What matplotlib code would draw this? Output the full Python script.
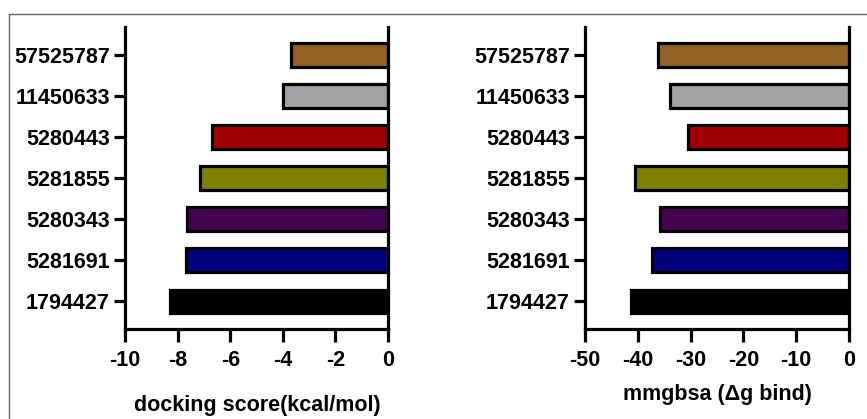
import matplotlib
matplotlib.use("Agg")
import matplotlib.pyplot as plt
from matplotlib.lines import Line2D

compounds = ["1794427", "5281691", "5280343", "5281855", "5280443", "11450633", "57525787"]
docking_score = [-8.27, -7.67, -7.63, -7.16, -6.71, -4.0, -3.68]
mmgbsa = [-41.2, -37.4, -35.8, -40.6, -30.5, -33.9, -36.2]
colors = ["#000000", "#00007E", "#440052", "#808000", "#A00000", "#A2A1A6", "#936121"]

left_ticks = [-10, -8, -6, -4, -2, 0]
right_ticks = [-50, -40, -30, -20, -10, 0]

W, H = 867, 419
fig = plt.figure(figsize=(W / 100, H / 100), dpi=100)

tick_font = dict(family=["Liberation Sans", "DejaVu Sans"], weight="bold", size=15.5)
label_font = dict(family=["Liberation Sans", "DejaVu Sans"], weight="bold", size=15.5)

lw = 2.3


def make_ax(rect, values, xlim, ticks, xlabel, label_x, label_y):
    ax = fig.add_axes(rect)
    y = list(range(len(compounds)))
    ax.barh(y, values, height=0.58, color=colors, edgecolor="black", linewidth=lw, zorder=2)
    ax.set_xlim(*xlim)
    ax.set_ylim(-0.67, 6.68)
    ax.set_yticks(y)
    ax.set_yticklabels(compounds, fontdict=tick_font)
    ax.set_xticks(ticks)
    ax.set_xticklabels([str(t) for t in ticks], fontdict=tick_font)
    for s in ["left", "bottom", "right"]:
        ax.spines[s].set_linewidth(lw)
        ax.spines[s].set_color("black")
    ax.spines["top"].set_visible(False)
    ax.tick_params(axis="y", length=8, width=lw, pad=3, right=False)
    ax.tick_params(axis="x", length=9, width=lw, pad=6)
    fig.text(label_x / W, 1 - label_y / H, xlabel, ha="center", va="baseline", fontdict=label_font)
    return ax


make_ax([125 / W, 1 - 329 / H, 263 / W, 302 / H], docking_score, (-10, 0), left_ticks,
        "docking score(kcal/mol)", 257, 411)
make_ax([585 / W, 1 - 329 / H, 264 / W, 302 / H], mmgbsa, (-50, 0), right_ticks,
        "mmgbsa (\u0394g bind)", 717, 400)

# frame lines at top and left
fig.add_artist(Line2D([9 / W, 1], [1 - 14 / H, 1 - 14 / H], transform=fig.transFigure, color="#666666", lw=1))
fig.add_artist(Line2D([9 / W, 9 / W], [0, 1 - 14 / H], transform=fig.transFigure, color="#666666", lw=1))

fig.savefig("out.png", dpi=100)
